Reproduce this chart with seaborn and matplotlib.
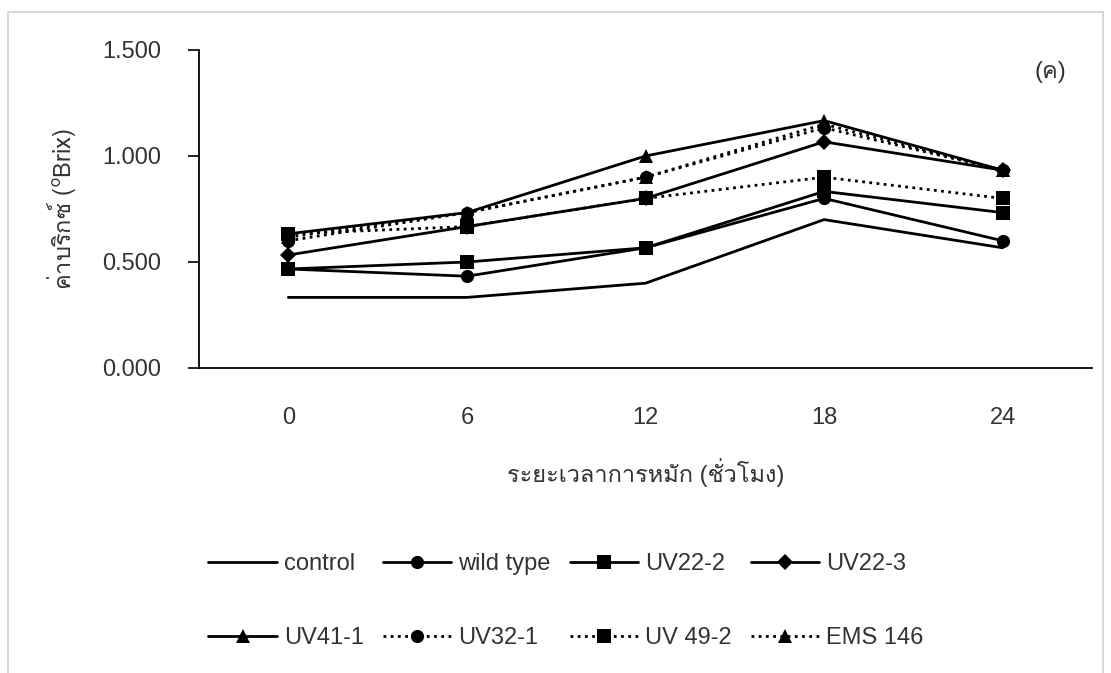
import numpy as np
import pandas as pd
import matplotlib
matplotlib.use("Agg")
import matplotlib.pyplot as plt
from matplotlib import font_manager
from matplotlib.ft2font import FT2Font
from matplotlib.patches import Rectangle
import seaborn as sns

# Fermentation time (hours) and soluble solids (°Brix) per strain
hours = [0, 6, 12, 18, 24]
hour_labels = ["0", "6", "12", "18", "24"]
control = [0.333, 0.333, 0.400, 0.700, 0.567]
wild_type = [0.467, 0.433, 0.567, 0.800, 0.600]
uv22_2 = [0.467, 0.500, 0.567, 0.833, 0.733]
uv22_3 = [0.533, 0.667, 0.800, 1.067, 0.933]
uv41_1 = [0.633, 0.733, 1.000, 1.167, 0.933]
uv32_1 = [0.600, 0.733, 0.900, 1.133, 0.933]
uv49_2 = [0.633, 0.667, 0.800, 0.900, 0.800]
ems146 = [0.617, 0.733, 0.900, 1.150, 0.933]

series_names = ["control", "wild type", "UV22-2", "UV22-3",
                "UV41-1", "UV32-1", "UV 49-2", "EMS 146"]
series_values = [control, wild_type, uv22_2, uv22_3,
                 uv41_1, uv32_1, uv49_2, ems146]

y_ticks = [0.0, 0.5, 1.0, 1.5]
x_title = "ระยะเวลาการหมัก (ชั่วโมง)"
y_title = "ค่าบริกซ์ ($^{\\mathrm{o}}$Brix)"
panel_tag = "(ค)"

# line styling per series: marker, marker size, dotted?
DOT = (0, (1, 1.6))
styles = {
    "control": (None, 0, False),
    "wild type": ("o", 9.5, False),
    "UV22-2": ("s", 9.5, False),
    "UV22-3": ("D", 8.0, False),
    "UV41-1": ("^", 9.5, False),
    "UV32-1": ("o", 9.5, True),
    "UV 49-2": ("s", 9.5, True),
    "EMS 146": ("^", 9.5, True),
}


def find_thai_family():
    for fe in font_manager.fontManager.ttflist:
        try:
            cmap = FT2Font(fe.fname).get_charmap()
        except Exception:
            continue
        if 0x0E04 in cmap and 0x0E01 in cmap and ord("B") in cmap:
            return fe.name
    return None


sns.set_theme(style="white")
thai = find_thai_family()
families = ["Liberation Sans"]
if thai:
    families.append(thai)
families.append("DejaVu Sans")
plt.rcParams["font.family"] = families
plt.rcParams["mathtext.fontset"] = "custom"
plt.rcParams["mathtext.rm"] = thai or "Liberation Sans"

TXT = "#333333"
FS = 17

df = pd.DataFrame({
    "hour": np.tile(hours, len(series_names)),
    "brix": np.concatenate(series_values),
    "strain": np.repeat(series_names, len(hours)),
})

fig = plt.figure(figsize=(11.11, 6.73), dpi=100)
ax = fig.add_axes([199 / 1111, 1 - 368 / 673, (1092 - 199) / 1111, (368 - 50) / 673])

for name in series_names:
    marker, ms, dotted = styles[name]
    sub = df[df["strain"] == name]
    kw = dict(color="black", linewidth=2.0, label=name, legend=False)
    if marker:
        kw.update(marker=marker, markersize=ms, markeredgewidth=0,
                  markerfacecolor="black")
    sns.lineplot(data=sub, x="hour", y="brix", ax=ax, **kw)
    if dotted:
        ax.lines[-1].set_linestyle(DOT)

ax.set_xlim(-3, 27)
ax.set_ylim(0, 1.5)
ax.set_xticks(hours)
ax.set_xticklabels(hour_labels)
ax.set_yticks(y_ticks)
ax.set_yticklabels([f"{v:.3f}" for v in y_ticks])
ax.tick_params(axis="x", length=0, pad=28, labelsize=FS, labelcolor=TXT)
ax.tick_params(axis="y", left=True, length=8, width=1.2, pad=19,
               labelsize=FS, labelcolor=TXT, color="black")

for side in ["top", "right"]:
    ax.spines[side].set_visible(False)
for side in ["left", "bottom"]:
    ax.spines[side].set_color("black")
    ax.spines[side].set_linewidth(1.3)
ax.grid(False)

ax.set_xlabel(x_title, fontsize=FS, color=TXT, labelpad=21)
ylab_family = [thai] if thai else families
ax.set_ylabel(y_title, fontsize=FS, color=TXT, labelpad=18, family=ylab_family)
ax.text(1050 / 1111, 1 - 72 / 673, panel_tag, transform=fig.transFigure,
        ha="center", va="center", fontsize=FS, color=TXT)

# legend filled row by row: 4 entries per row
lines = ax.get_lines()
ncol = 4
order = [r * ncol + c for c in range(ncol) for r in range(2)]
handles = [lines[i] for i in order]
labels = [series_names[i] for i in order]
leg = fig.legend(handles, labels, loc="center", ncol=ncol,
                 bbox_to_anchor=(566 / 1111, 1 - 601 / 673),
                 frameon=False, fontsize=FS, handlelength=2.9,
                 handletextpad=0.3, columnspacing=0.8, labelspacing=2.2,
                 borderpad=0)
for t in leg.get_texts():
    t.set_color(TXT)

# light outer frame
fig.patches.append(Rectangle((8 / 1111, -0.05), (1103 - 8) / 1111,
                             (673 - 12) / 673 + 0.05,
                             transform=fig.transFigure, fill=False,
                             edgecolor="#d9d9d9", linewidth=1.5))

fig.savefig("out.png", dpi=100, facecolor="white")
